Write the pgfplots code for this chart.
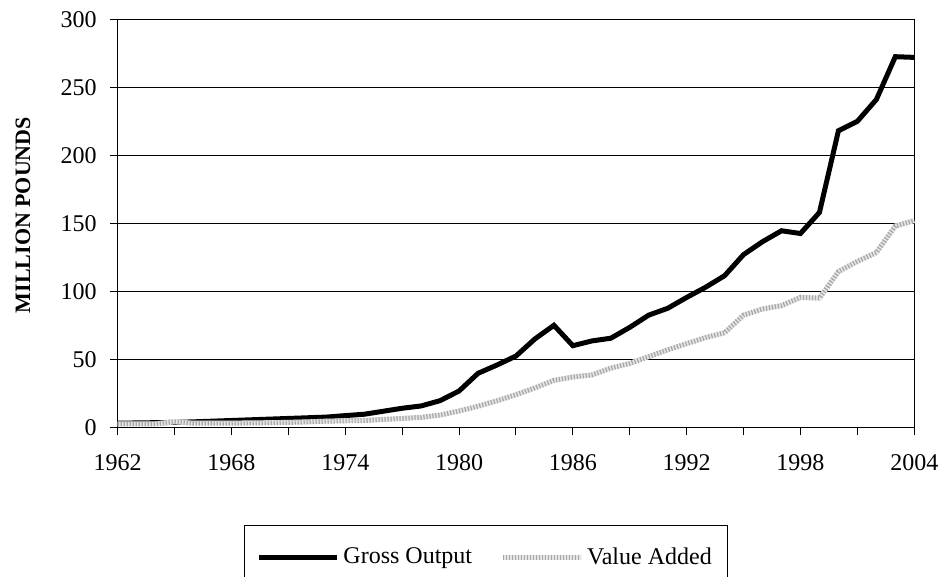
\documentclass[border=0pt]{standalone}
\usepackage{pgfplots}
\pgfplotsset{compat=1.18}
\usepackage{fontspec}
\setmainfont{Liberation Serif}
\pgfplotstableread{
year gross va
1962 3.0 2.5
1963 3.2 2.5
1964 3.4 2.6
1965 3.6 4.0
1966 4.0 3.0
1967 4.5 3.0
1968 5.0 3.1
1969 5.5 3.2
1970 6.0 3.4
1971 6.5 3.6
1972 7.0 4.0
1973 7.5 4.5
1974 8.6 4.8
1975 9.6 5.0
1976 11.8 5.8
1977 14.0 6.5
1978 15.7 7.3
1979 19.6 9.0
1980 26.7 12.0
1981 39.7 15.5
1982 45.8 19.5
1983 52.4 24.0
1984 65.0 29.0
1985 75.0 34.5
1986 60.0 37.0
1987 63.5 38.5
1988 65.5 43.5
1989 73.5 47.0
1990 82.5 52.0
1991 87.5 57.0
1992 95.5 61.5
1993 103.0 66.0
1994 111.5 69.5
1995 127.0 82.5
1996 136.5 87.0
1997 144.5 89.5
1998 142.5 95.5
1999 158.0 95.0
2000 218.0 114.5
2001 225.0 122.0
2002 241.0 128.5
2003 272.5 148.0
2004 272.0 152.0
}\datatable
\begin{document}
\begin{tikzpicture}
\begin{axis}[
  name=ax,
  scale only axis,
  width=398.3pt, height=204pt,
  xmin=1962, xmax=2004, ymin=0, ymax=300,
  xtick={1962,1968,...,2004},
  minor xtick={1965,1971,...,2001},
  ytick={0,50,...,300},
  ymajorgrids,
  major grid style={black, line width=0.5pt},
  axis line style={black, line width=0.6pt},
  tick style={black, line width=0.5pt},
  tick align=outside,
  major tick length=4pt, minor tick length=4pt,
  xtick pos=bottom, ytick pos=left,
  /pgf/number format/assume math mode=true,
  /pgf/number format/1000 sep={},
  tick label style={font=\fontsize{12}{14}\selectfont},
  xticklabel style={yshift=-6pt},
  yticklabel style={xshift=-3pt},
  ylabel={\textbf{MILLION POUNDS}},
  ylabel style={font=\fontsize{11}{13}\selectfont, at={(axis description cs:-0.119,0.52)}, anchor=center},
  clip=false,
  legend columns=2,
  legend style={at={(axis description cs:0.4625,-0.2395)}, anchor=north, draw=black, line width=0.5pt,
    font=\fontsize{12}{14}\selectfont, inner xsep=6pt, inner ysep=9pt,
    /tikz/every even column/.append style={column sep=12pt}},
  legend image code/.code={\draw[#1] (0pt,0pt) -- (39pt,0pt);},
]
\addplot[black, line width=2.5pt] table[x=year, y=gross] {\datatable};
\addplot[gray!20, line width=2.5pt, postaction={draw, gray!70, line width=2.5pt, dash pattern=on 0.6pt off 0.9pt}] table[x=year, y=va] {\datatable};
\legend{Gross Output, Value Added}
\end{axis}
\pgfresetboundingbox
\path[use as bounding box] (-58.85pt,-74.85pt) rectangle (410.65pt,213.65pt);
\end{tikzpicture}
\end{document}
